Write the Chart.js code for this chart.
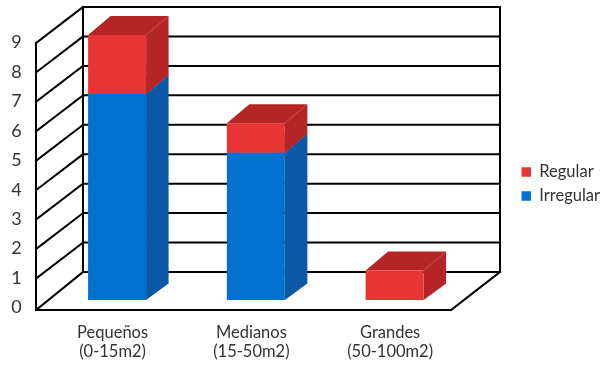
<!DOCTYPE html>
<html>
<head>
<meta charset="utf-8">
<style>html,body{margin:0;padding:0;background:#fff}canvas{display:block}</style>
<script src="https://cdn.jsdelivr.net/npm/chart.js@4/dist/chart.umd.min.js"></script>
</head>
<body>
<canvas id="c" width="602" height="365"></canvas>
<script>
const categories = [['Pequeños','(0-15m2)'],['Medianos','(15-50m2)'],['Grandes','(50-100m2)']];
const irregular = [7,5,0];
const regular = [2,1,1];
const yTicks = [0,1,2,3,4,5,6,7,8,9];

const frontColors = {Irregular:'#0270CF', Regular:'#E73535'};
const sideColors  = {Irregular:'#0B59A6', Regular:'#B52525'};
const FONT = 'Lato, Carlito, sans-serif';
const TEXT = '#333333';

const walls = {
  id:'walls',
  beforeInit(chart){
    const fit = chart.legend.fit;
    chart.legend.fit = function(){ fit.call(this); this.width = 138; };
  },
  afterLayout(chart){
    const l = chart.legend;
    l.left = 514; l.right = 602;
    l.top = 84; l.bottom = 284;
  },
  beforeDatasetsDraw(chart){
    const {ctx, scales:{y}} = chart;
    const fx=36, bx=83, rx=500, frx=451;
    const frontY = v => v===0 ? 310 : y.getPixelForValue(v)+8;
    const backY  = v => y.getPixelForValue(v)-28;
    ctx.save();
    ctx.strokeStyle='#000'; ctx.lineWidth=2; ctx.lineCap='square';
    const line=(a,b,c,d)=>{ctx.beginPath();ctx.moveTo(a,b);ctx.lineTo(c,d);ctx.stroke();};
    y.ticks.forEach(t=>{
      line(bx,backY(t.value),rx,backY(t.value));
      line(fx,frontY(t.value),bx,backY(t.value));
    });
    const top=y.max, bot=y.min;
    line(fx,frontY(top),fx,frontY(bot));
    line(bx,backY(top),bx,backY(bot));
    line(rx,backY(top),rx,backY(bot));
    line(fx,frontY(bot),frx,frontY(bot));
    line(frx,frontY(bot),rx,backY(bot));
    // 3D faces
    const dx=22.5, dyTop=19, dyBase=16.5;
    ctx.lineCap='butt';
    chart.data.datasets.forEach((ds,di)=>{
      chart.getDatasetMeta(di).data.forEach((bar,i)=>{
        if(!ds.data[i]) return;
        const p=bar.getProps(['x','y','base','width'],true);
        const L=p.x-p.width/2, R=p.x+p.width/2;
        const isBottom = di===0 || !chart.data.datasets[0].data[i];
        const dyB = isBottom ? dyBase : dyTop;
        ctx.fillStyle=sideColors[ds.label];
        ctx.beginPath();
        ctx.moveTo(L,p.y);ctx.lineTo(R,p.y);ctx.lineTo(R+dx,p.y-dyTop);ctx.lineTo(L+dx,p.y-dyTop);ctx.closePath();ctx.fill();
        ctx.beginPath();
        ctx.moveTo(R,p.y);ctx.lineTo(R+dx,p.y-dyTop);ctx.lineTo(R+dx,p.base-dyB);ctx.lineTo(R,p.base);ctx.closePath();ctx.fill();
      });
    });
    ctx.restore();
  }
};

new Chart(document.getElementById('c'),{
  type:'bar',
  data:{
    labels:categories,
    datasets:[
      {label:'Irregular',data:irregular,backgroundColor:frontColors.Irregular,borderWidth:0,barPercentage:0.418,categoryPercentage:1},
      {label:'Regular',data:regular,backgroundColor:frontColors.Regular,borderWidth:0,barPercentage:0.418,categoryPercentage:1}
    ]
  },
  options:{
    responsive:false,
    animation:false,
    layout:{padding:{top:35,left:0,right:0,bottom:0}},
    plugins:{
      legend:{position:'right',reverse:true,
        labels:{boxWidth:9.5,boxHeight:9.5,padding:7.5,color:TEXT,font:{family:FONT,size:16.5}}},
      tooltip:{enabled:false}
    },
    scales:{
      x:{stacked:true,
        grid:{display:false,drawTicks:false},border:{display:false},
        afterFit(s){s.height=65;s.paddingTop=0;s.paddingBottom=0;},
        ticks:{padding:22.5,labelOffset:-4.5,maxRotation:0,autoSkip:false,color:TEXT,font:{family:FONT,size:16.5,lineHeight:1.18}}},
      y:{stacked:true,min:0,max:9,
        afterBuildTicks(s){s.ticks=yTicks.map(value=>({value}));},
        afterFit(s){s.width=47.7;s.paddingTop=0;s.paddingBottom=0;},
        grid:{display:false,drawTicks:false},border:{display:false},
        ticks:{padding:26,labelOffset:7.5,color:TEXT,font:{family:FONT,size:18}}}
    }
  },
  plugins:[walls]
});
</script>
</body>
</html>
